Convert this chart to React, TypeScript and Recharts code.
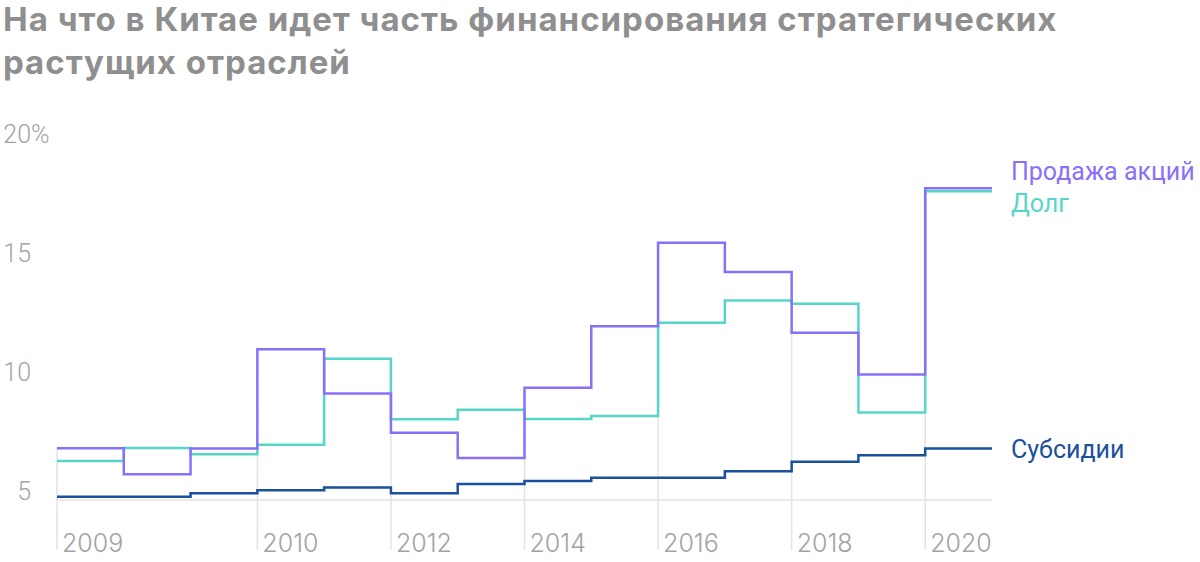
import React from 'react';
import { LineChart, Line, XAxis, YAxis, ReferenceLine } from 'recharts';

// half-year steps, 14 periods from 2009 to 2020
const periods = [0, 1, 2, 3, 4, 5, 6, 7, 8, 9, 10, 11, 12, 13];
const equitySales = [7.17, 6.08, 7.16, 11.33, 9.47, 7.83, 6.76, 9.72, 12.3, 15.81, 14.58, 12.03, 10.27, 18.1];
const debt = [6.64, 7.18, 6.92, 7.32, 10.94, 8.39, 8.79, 8.4, 8.53, 12.45, 13.38, 13.25, 8.68, 17.97];
const subsidies = [5.14, 5.14, 5.28, 5.41, 5.53, 5.28, 5.67, 5.8, 5.94, 5.94, 6.21, 6.61, 6.88, 7.16];

const tickIdx = [0, 3, 5, 7, 9, 11, 13];
const tickYears = ['2009', '2010', '2012', '2014', '2016', '2018', '2020'];
const yTicks = [5, 10, 15, 20];

const PURPLE = '#8a6ffb';
const TEAL = '#55d6c6';
const BLUE = '#1a509c';
const GRID = '#e3e3e3';
const MUTED = '#a3a3a3';
const FONT = 'Roboto, "Noto Sans", sans-serif';
const WIDE = 'Inter, Roboto, sans-serif';

// one closing row repeats the last values so the final step is drawn
const data = [...periods, periods.length].map((p) => {
  const i = Math.min(p, periods.length - 1);
  return { idx: p, equity: equitySales[i], debt: debt[i], subsidies: subsidies[i] };
});

const gridTop = (i: number) => {
  const vals: number[] = [];
  [i - 1, i].forEach((k) => {
    if (k >= 0 && k < periods.length) vals.push(equitySales[k], debt[k], subsidies[k]);
  });
  return Math.max(...vals);
};

const XTick = (props: any) => {
  const { x, y, payload } = props;
  const label = tickYears[tickIdx.indexOf(payload.value)];
  return (
    <g>
      <line x1={x} x2={x} y1={y} y2={y + 50} stroke={GRID} strokeWidth={1.5} />
      <text x={x + 5} y={y + 52} fill={MUTED} fontSize={25} fontWeight={300} fontFamily={WIDE}>
        {label}
      </text>
    </g>
  );
};

const YTick = (props: any) => {
  const { y, payload } = props;
  return (
    <g>
      <text x={31} y={y} textAnchor="end" fill={MUTED} fontSize={25} fontWeight={300} fontFamily={FONT}>
        {payload.value}
      </text>
      {payload.value === 20 && (
        <text x={31} y={y} fill={MUTED} fontSize={25} fontWeight={300} fontFamily={FONT}>%</text>
      )}
    </g>
  );
};

const endLabel = (text: string, color: string, dy: number) => (props: any) => {
  const { x, y, index } = props;
  if (index !== periods.length) return null;
  return (
    <text x={x + 19} y={y + dy} fill={color} fontSize={25} fontFamily={FONT}>
      {text}
    </text>
  );
};

export default function App() {
  return (
    <div style={{ position: 'absolute', left: 0, top: 0, width: 1200, height: 562, background: '#fff', overflow: 'hidden' }}>
      <div
        style={{
          position: 'absolute', left: 3, top: -2, width: 1195, whiteSpace: 'nowrap',
          fontFamily: WIDE, fontWeight: 700, fontSize: 33, lineHeight: '43px',
          letterSpacing: '1px', color: '#8f8f8f',
        }}
      >
        На что в Китае идет часть финансирования стратегических<br />растущих отраслей
      </div>
      <LineChart width={1200} height={562} data={data} margin={{ top: 143, right: 208, bottom: 0, left: 0 }}>
        <XAxis
          type="number"
          dataKey="idx"
          domain={[0, periods.length]}
          ticks={tickIdx}
          interval={0}
          tick={<XTick />}
          tickLine={false}
          tickSize={0}
          tickMargin={0}
          axisLine={{ stroke: GRID, strokeWidth: 1.5 }}
          height={62}
        />
        <YAxis
          type="number"
          domain={[5, 20]}
          ticks={yTicks}
          interval={0}
          tick={<YTick />}
          axisLine={false}
          tickLine={false}
          width={57}
        />
        {tickIdx.map((i) => (
          <ReferenceLine
            key={i}
            segment={[{ x: i, y: 5 }, { x: i, y: gridTop(i) }]}
            stroke={GRID}
            strokeWidth={1.5}
          />
        ))}
        <Line type="stepAfter" dataKey="subsidies" stroke={BLUE} strokeWidth={2.5} dot={false} activeDot={false}
          isAnimationActive={false} label={endLabel('Субсидии', BLUE, 9)} />
        <Line type="stepAfter" dataKey="debt" stroke={TEAL} strokeWidth={2.5} dot={false} activeDot={false}
          isAnimationActive={false} label={endLabel('Долг', TEAL, 21)} />
        <Line type="stepAfter" dataKey="equity" stroke={PURPLE} strokeWidth={2.5} dot={false} activeDot={false}
          isAnimationActive={false} label={endLabel('Продажа акций', PURPLE, -8)} />
      </LineChart>
    </div>
  );
}
